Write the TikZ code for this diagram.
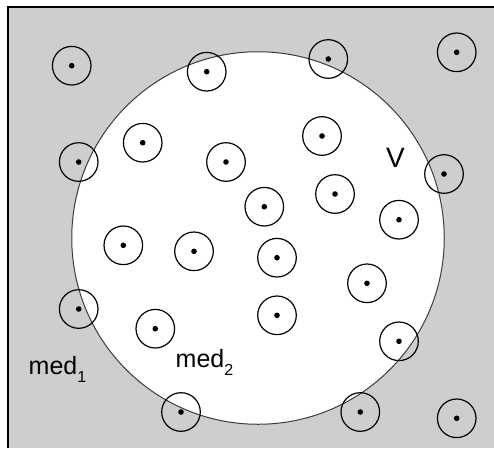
\documentclass[tikz,border=0pt]{standalone}
\usepackage{fontspec}
\setmainfont{Liberation Sans}
\definecolor{bggray}{RGB}{206,206,206}
\definecolor{rimgray}{RGB}{60,60,60}
\tikzset{
  particle/.style={circle, draw=black, line width=1.2pt, minimum size=38.6pt, inner sep=0pt,
    path picture={\fill[black] (path picture bounding box.center) circle (2.8pt);}},
  region/.style={circle, draw=rimgray, line width=1pt, fill=white, minimum size=372.5pt, inner sep=0pt},
  lbl/.style={inner sep=0pt, anchor=base west, text=black}
}
\begin{document}
\begin{tikzpicture}[x=1pt,y=-1pt]
\useasboundingbox (0,0) rectangle (494,448);
\fill[bggray] (8,7) rectangle (494,448);
\coordinate (bl) at (8,448);
\coordinate (tl) at (8,7);
\coordinate (tr) at (494,7);
\draw[black, line width=1.2pt] (bl) -- (tl) -- (tr);
\node[region] (vol) at (258,238) {};
\node[particle] (p1) at (71.7,65.7) {};
\node[particle] (p2) at (206.7,71.7) {};
\node[particle] (p3) at (328.3,59) {};
\node[particle] (p4) at (456.7,52.3) {};
\node[particle] (p5) at (142.7,142.7) {};
\node[particle] (p6) at (226,162) {};
\node[particle] (p7) at (322,136) {};
\node[particle] (p8) at (78.7,162) {};
\node[particle] (p9) at (444,174) {};
\node[particle] (p10) at (335,194) {};
\node[particle] (p11) at (264.3,206.7) {};
\node[particle] (p12) at (399,219.7) {};
\node[particle] (p13) at (123.3,245.3) {};
\node[particle] (p14) at (194,251.3) {};
\node[particle] (p15) at (277,257.7) {};
\node[particle] (p16) at (367,283.3) {};
\node[particle] (p17) at (78.7,309) {};
\node[particle] (p18) at (155.3,328.7) {};
\node[particle] (p19) at (277,315.3) {};
\node[particle] (p20) at (399,341.3) {};
\node[particle] (p21) at (181,412) {};
\node[particle] (p22) at (360.3,412) {};
\node[particle] (p23) at (456.7,418.3) {};
\node[lbl] (lv) at (386,167.5) {\fontsize{28}{28}\selectfont V};
\node[lbl] (lm1) at (28.5,374.5) {\fontsize{25}{25}\selectfont med\raisebox{-8pt}{\fontsize{16}{16}\selectfont 1}};
\node[lbl] (lm2) at (175.5,367.5) {\fontsize{25}{25}\selectfont med\raisebox{-8pt}{\fontsize{16}{16}\selectfont 2}};
\end{tikzpicture}
\end{document}
